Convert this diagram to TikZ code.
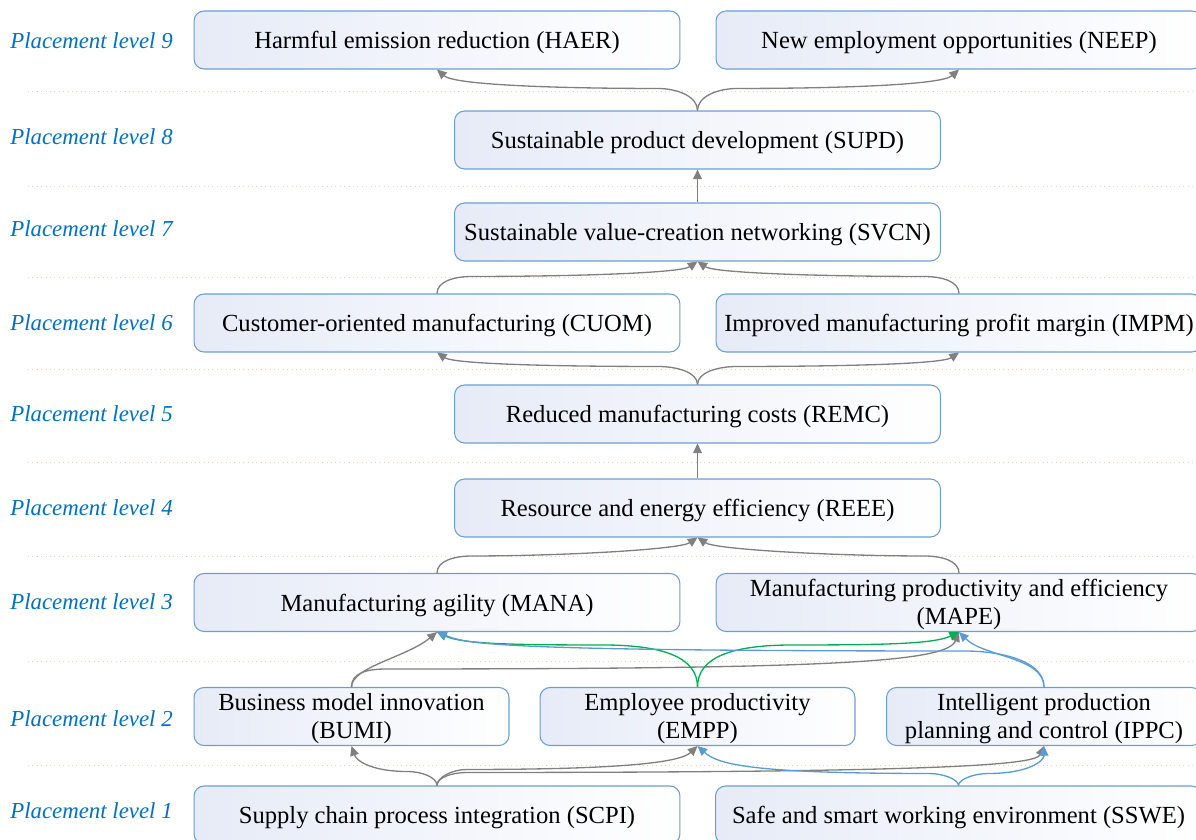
\documentclass[tikz,border=0pt]{standalone}
\usepackage{fontspec}
\setmainfont{Liberation Serif}
\usetikzlibrary{arrows.meta}
\definecolor{boxline}{RGB}{106,159,212}
\definecolor{boxfill}{RGB}{230,235,247}
\definecolor{levelblue}{RGB}{0,112,192}
\definecolor{linkgray}{RGB}{128,128,128}
\definecolor{linkgreen}{RGB}{0,176,80}
\definecolor{linkblue}{RGB}{91,155,213}
\definecolor{sepline}{RGB}{248,203,173}
% taller strut for the first line of two-line boxes
\newcommand{\firststrut}{\rule{0pt}{0.44cm}}

\begin{document}
\begin{tikzpicture}[x=0.02cm,y=0.02cm,
  factor/.style={draw=boxline, line width=0.6pt, rounded corners=0.2cm,
    left color=boxfill, middle color=white, right color=white,
    minimum height=1.16cm, inner sep=2pt, align=center,
    font=\fontsize{14}{16}\selectfont},
  oneline/.style={text height=0.46cm, text depth=0.11cm},
  twoline/.style={inner ysep=0pt},
  wide/.style={factor, minimum width=9.72cm},
  narrow/.style={factor, minimum width=6.3cm},
  level/.style={anchor=west, text=levelblue, inner sep=0,
    font=\fontsize{13}{16}\selectfont\itshape},
  sep/.style={draw=sepline, line width=0.5pt, dotted},
  link/.style={line width=0.75pt, -{Triangle[length=5.5pt,width=5pt]}},
  glink/.style={link, linkgray},
  elink/.style={link, linkgreen},
  blink/.style={link, linkblue}]

\begin{scope}
\clip (0,0) rectangle (1196,839);

% level separators
\foreach \yy in {748,653,562,470,377,283,178,74}
  \draw[sep] (28,\yy) -- (1196,\yy);

% level labels
\node[level] (L9) at (10,798) {Placement level 9};
\node[level] (L8) at (10,702) {Placement level 8};
\node[level] (L7) at (10,610) {Placement level 7};
\node[level] (L6) at (10,516) {Placement level 6};
\node[level] (L5) at (10,425) {Placement level 5};
\node[level] (L4) at (10,331) {Placement level 4};
\node[level] (L3) at (10,237) {Placement level 3};
\node[level] (L2) at (10,120) {Placement level 2};
\node[level] (L1) at (10,28)  {Placement level 1};

% factors
\node[wide,oneline] (HAER) at (437,799)   {Harmful emission reduction (HAER)};
\node[wide,oneline] (NEEP) at (959,799)   {New employment opportunities (NEEP)};
\node[wide,oneline] (SUPD) at (697.5,699) {Sustainable product development (SUPD)};
\node[wide,oneline] (SVCN) at (697.5,607) {Sustainable value-creation networking (SVCN)};
\node[wide,oneline] (CUOM) at (437,516)   {Customer-oriented manufacturing (CUOM)};
\node[wide,oneline] (IMPM) at (959,516)   {Improved manufacturing profit margin (IMPM)};
\node[wide,oneline] (REMC) at (697.5,425) {Reduced manufacturing costs (REMC)};
\node[wide,oneline] (REEE) at (697.5,331) {Resource and energy efficiency (REEE)};
\node[wide,oneline] (MANA) at (437,236.5) {Manufacturing agility (MANA)};
\node[wide,twoline] (MAPE) at (959,236.5) {\firststrut Manufacturing productivity and efficiency\\(MAPE)};
\node[narrow,twoline] (BUMI) at (351.5,122.5) {\firststrut Business model innovation\\(BUMI)};
\node[narrow,twoline] (EMPP) at (697.5,122.5) {\firststrut Employee productivity\\(EMPP)};
\node[narrow,twoline] (IPPC) at (1044,122.5)  {\firststrut Intelligent production\\planning and control (IPPC)};
\node[wide,oneline] (SCPI) at (437,24)    {Supply chain process integration (SCPI)};
\node[wide,oneline] (SSWE) at (958.5,24)  {Safe and smart working environment (SSWE)};

% level 8 -> level 9
\draw[glink] (SUPD.north) .. controls +(0,14) and +(20,0) .. ++(-40,22)
  .. controls +(-90,0) and +(18,-16) .. (HAER.south);
\draw[glink] (SUPD.north) .. controls +(0,14) and +(-20,0) .. ++(40,22)
  .. controls +(90,0) and +(-18,-16) .. (NEEP.south);

% level 7 -> level 8
\draw[glink] (SVCN.north) -- (SUPD.south);

% level 6 -> level 7
\draw[glink] (CUOM.north) .. controls +(0,12) and +(-18,0) .. ++(35,17)
  .. controls +(90,0) and +(-18,-12) .. (SVCN.south);
\draw[glink] (IMPM.north) .. controls +(0,12) and +(18,0) .. ++(-35,17)
  .. controls +(-90,0) and +(18,-12) .. (SVCN.south);

% level 5 -> level 6
\draw[glink] (REMC.north) .. controls +(0,12) and +(20,0) .. ++(-40,18)
  .. controls +(-90,0) and +(18,-12) .. (CUOM.south);
\draw[glink] (REMC.north) .. controls +(0,12) and +(-20,0) .. ++(40,18)
  .. controls +(90,0) and +(-18,-12) .. (IMPM.south);

% level 4 -> level 5
\draw[glink] (REEE.north) -- (REMC.south);

% level 3 -> level 4
\draw[glink] (MANA.north) .. controls +(0,12) and +(-18,0) .. ++(35,17)
  .. controls +(90,0) and +(-18,-12) .. (REEE.south);
\draw[glink] (MAPE.north) .. controls +(0,12) and +(18,0) .. ++(-35,17)
  .. controls +(-90,0) and +(18,-12) .. (REEE.south);

% level 2 -> level 3
\draw[glink] (BUMI.north) .. controls +(0,20) and +(-30,-25) .. (MANA.south);
\draw[glink] (BUMI.north) .. controls +(0,14) and +(-20,0) .. ++(35,18)
  .. controls +(450,0) and +(-12,-30) .. (MAPE.south);
\draw[elink] (EMPP.north) .. controls +(0,30) and +(60,0) .. ++(-95,42)
  .. controls +(-90,0) and +(25,-12) .. (MANA.south);
\draw[elink] (EMPP.north) .. controls +(0,30) and +(-60,0) .. ++(95,42)
  .. controls +(90,0) and +(-25,-12) .. (MAPE.south);
\draw[blink] (IPPC.north) .. controls +(0,30) and +(25,-25) .. (MAPE.south);
\draw[blink] (IPPC.north) .. controls +(0,25) and +(40,0) .. ++(-80,36)
  .. controls +(-470,0) and +(30,-12) .. (MANA.south);

% level 1 -> level 2
\draw[glink] (SCPI.north) .. controls +(0,8) and +(15,0) .. ++(-30,14)
  .. controls +(-35,0) and +(5,-15) .. (BUMI.south);
\draw[glink] (SCPI.north) .. controls +(0,8) and +(-15,0) .. ++(30,16)
  .. controls +(180,0) and +(-15,-14) .. (EMPP.south);
\draw[glink] (SCPI.north) .. controls +(0,8) and +(-15,0) .. ++(30,13)
  .. controls +(500,0) and +(-8,-18) .. (IPPC.south);
\draw[blink] (SSWE.north) .. controls +(0,6) and +(15,0) .. ++(-30,12)
  .. controls +(-180,0) and +(20,-18) .. (EMPP.south);
\draw[blink] (SSWE.north) .. controls +(0,6) and +(-15,0) .. ++(30,12)
  .. controls +(40,0) and +(0,-15) .. (IPPC.south);
\end{scope}

\pgfresetboundingbox
\path[use as bounding box] (0,0) rectangle (1196,839);
\end{tikzpicture}
\end{document}
